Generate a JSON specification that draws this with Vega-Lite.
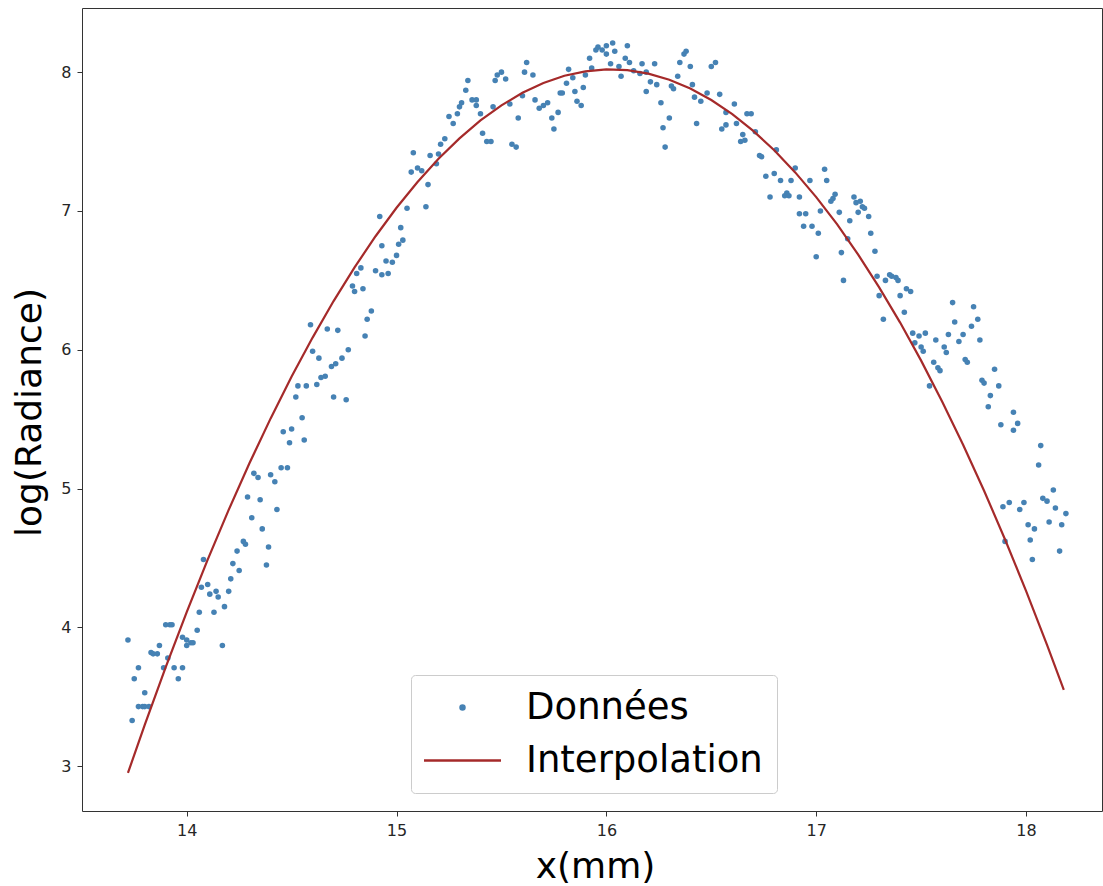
{
  "$schema": "https://vega.github.io/schema/vega-lite/v6.json",
  "autosize": "none",
  "width": 1020,
  "height": 803,
  "padding": {"left": 82, "top": 8, "right": 1, "bottom": 75},
  "background": "white",
  "config": {
    "font": "DejaVu Sans",
    "view": {"stroke": "#333333", "strokeWidth": 1}
  },
  "datasets": {
    "pts": [
      {"x":13.72,"y":3.91},{"x":13.74,"y":3.33},{"x":13.75,"y":3.63},{"x":13.77,"y":3.71},{"x":13.77,"y":3.43},{"x":13.79,"y":3.43},{"x":13.80,"y":3.43},{"x":13.82,"y":3.43},{"x":13.80,"y":3.53},{"x":13.83,"y":3.82},{"x":13.84,"y":3.81},{"x":13.86,"y":3.81},{"x":13.87,"y":3.87},{"x":13.89,"y":3.71},{"x":13.90,"y":4.02},{"x":13.92,"y":4.02},{"x":13.93,"y":4.02},{"x":13.91,"y":3.78},{"x":13.94,"y":3.71},{"x":13.98,"y":3.71},{"x":13.96,"y":3.63},{"x":13.98,"y":3.93},{"x":14.00,"y":3.91},{"x":14.02,"y":3.89},{"x":14.03,"y":3.89},{"x":14.00,"y":3.87},{"x":14.05,"y":3.98},{"x":14.06,"y":4.11},{"x":14.08,"y":4.49},{"x":14.07,"y":4.29},{"x":14.10,"y":4.31},{"x":14.11,"y":4.24},{"x":14.13,"y":4.11},{"x":14.14,"y":4.26},{"x":14.15,"y":4.22},{"x":14.17,"y":3.87},{"x":14.18,"y":4.15},{"x":14.20,"y":4.26},{"x":14.21,"y":4.35},{"x":14.22,"y":4.46},{"x":14.25,"y":4.41},{"x":14.24,"y":4.55},{"x":14.27,"y":4.62},{"x":14.28,"y":4.60},{"x":14.29,"y":4.94},{"x":14.31,"y":4.79},{"x":14.32,"y":5.11},{"x":14.34,"y":5.08},{"x":14.35,"y":4.92},{"x":14.36,"y":4.71},{"x":14.38,"y":4.45},{"x":14.39,"y":4.58},{"x":14.40,"y":5.10},
      {"x":14.43,"y":4.85},{"x":14.42,"y":5.05},{"x":14.45,"y":5.15},{"x":14.48,"y":5.15},{"x":14.49,"y":5.33},{"x":14.46,"y":5.41},{"x":14.50,"y":5.43},{"x":14.55,"y":5.51},{"x":14.56,"y":5.35},{"x":14.52,"y":5.66},{"x":14.53,"y":5.74},{"x":14.57,"y":5.74},{"x":14.62,"y":5.75},{"x":14.64,"y":5.80},{"x":14.66,"y":5.81},{"x":14.70,"y":5.66},{"x":14.76,"y":5.64},{"x":14.69,"y":5.88},{"x":14.71,"y":5.90},{"x":14.74,"y":5.94},{"x":14.77,"y":6.00},{"x":14.60,"y":5.99},{"x":14.63,"y":5.94},{"x":14.59,"y":6.18},{"x":14.67,"y":6.15},{"x":14.72,"y":6.14},{"x":14.85,"y":6.10},{"x":14.86,"y":6.22},{"x":14.88,"y":6.28},{"x":14.79,"y":6.46},{"x":14.80,"y":6.42},{"x":14.84,"y":6.44},{"x":14.81,"y":6.55},{"x":14.83,"y":6.59},{"x":14.90,"y":6.57},{"x":14.93,"y":6.54},{"x":14.96,"y":6.55},{"x":14.95,"y":6.64},
      {"x":14.93,"y":6.75},{"x":14.92,"y":6.96},{"x":14.98,"y":6.63},{"x":15.00,"y":6.68},{"x":15.01,"y":6.76},{"x":15.03,"y":6.79},{"x":15.02,"y":6.88},{"x":15.05,"y":7.02},{"x":15.14,"y":7.03},{"x":15.15,"y":7.19},{"x":15.07,"y":7.28},{"x":15.10,"y":7.31},{"x":15.12,"y":7.29},{"x":15.08,"y":7.42},{"x":15.16,"y":7.40},{"x":15.20,"y":7.41},{"x":15.19,"y":7.34},{"x":15.21,"y":7.48},{"x":15.23,"y":7.52},{"x":15.27,"y":7.63},{"x":15.25,"y":7.68},{"x":15.29,"y":7.70},{"x":15.30,"y":7.75},{"x":15.31,"y":7.78},{"x":15.33,"y":7.87},{"x":15.34,"y":7.94},{"x":15.36,"y":7.80},{"x":15.38,"y":7.80},{"x":15.38,"y":7.76},{"x":15.40,"y":7.70},{"x":15.41,"y":7.56},{"x":15.43,"y":7.50},{"x":15.45,"y":7.50},{"x":15.46,"y":7.75},{"x":15.47,"y":7.94},{"x":15.48,"y":7.98},{"x":15.50,"y":8.00},{"x":15.52,"y":7.95},{"x":15.54,"y":7.77},{"x":15.55,"y":7.48},{"x":15.57,"y":7.46},{"x":15.58,"y":7.67},{"x":15.60,"y":7.83},{"x":15.61,"y":8.00},{"x":15.62,"y":8.07},{"x":15.65,"y":7.98},{"x":15.66,"y":7.80},{"x":15.68,"y":7.74},
      {"x":15.70,"y":7.76},{"x":15.72,"y":7.78},{"x":15.74,"y":7.67},{"x":15.77,"y":7.71},{"x":15.75,"y":7.59},{"x":15.78,"y":7.85},{"x":15.79,"y":7.85},{"x":15.81,"y":7.92},{"x":15.82,"y":8.02},{"x":15.84,"y":7.96},{"x":15.85,"y":7.86},{"x":15.86,"y":7.79},{"x":15.88,"y":7.76},{"x":15.89,"y":7.89},{"x":15.90,"y":7.98},{"x":15.92,"y":8.10},{"x":15.93,"y":8.03},{"x":15.95,"y":8.16},{"x":15.96,"y":8.18},{"x":15.98,"y":8.16},{"x":16.00,"y":8.19},{"x":16.00,"y":8.13},{"x":16.03,"y":8.21},{"x":16.04,"y":8.15},{"x":16.02,"y":8.06},{"x":16.07,"y":7.97},{"x":16.06,"y":8.04},{"x":16.10,"y":8.19},{"x":16.09,"y":8.10},{"x":16.11,"y":8.07},{"x":16.13,"y":8.01},{"x":16.16,"y":7.99},{"x":16.19,"y":8.00},{"x":16.17,"y":8.06},{"x":16.19,"y":7.86},{"x":16.21,"y":7.93},{"x":16.24,"y":7.91},{"x":16.23,"y":8.06},{"x":16.26,"y":7.78},{"x":16.27,"y":7.60},{"x":16.28,"y":7.46},{"x":16.30,"y":7.67},{"x":16.31,"y":7.90},{"x":16.32,"y":7.88},{"x":16.34,"y":7.97},{"x":16.35,"y":8.07},{"x":16.37,"y":8.13},{"x":16.38,"y":8.15},{"x":16.40,"y":8.04},{"x":16.41,"y":7.91},{"x":16.42,"y":7.82},{"x":16.43,"y":7.63},
      {"x":16.50,"y":8.04},{"x":16.52,"y":8.07},{"x":16.45,"y":7.79},{"x":16.48,"y":7.85},{"x":16.54,"y":7.84},{"x":16.55,"y":7.59},{"x":16.57,"y":7.62},{"x":16.57,"y":7.71},{"x":16.61,"y":7.77},{"x":16.62,"y":7.63},{"x":16.65,"y":7.55},{"x":16.64,"y":7.50},{"x":16.66,"y":7.51},{"x":16.67,"y":7.70},{"x":16.69,"y":7.70},{"x":16.71,"y":7.57},{"x":16.73,"y":7.40},{"x":16.74,"y":7.39},{"x":16.76,"y":7.25},{"x":16.78,"y":7.10},{"x":16.80,"y":7.27},{"x":16.81,"y":7.44},{"x":16.83,"y":7.22},{"x":16.85,"y":7.11},{"x":16.86,"y":7.13},{"x":16.87,"y":7.11},{"x":16.88,"y":7.22},{"x":16.90,"y":7.31},{"x":16.92,"y":7.10},{"x":16.92,"y":6.98},{"x":16.95,"y":6.98},{"x":16.94,"y":6.89},{"x":16.98,"y":6.89},{"x":16.97,"y":7.22},{"x":17.00,"y":6.67},{"x":17.01,"y":6.84},{"x":17.02,"y":7.00},{"x":17.04,"y":7.30},{"x":17.05,"y":7.22},{"x":17.07,"y":7.07},{"x":17.08,"y":7.09},{"x":17.09,"y":7.12},{"x":17.11,"y":6.99},{"x":17.12,"y":6.70},{"x":17.13,"y":6.50},{"x":17.15,"y":6.80},{"x":17.16,"y":6.93},{"x":17.18,"y":7.10},{"x":17.19,"y":7.06},{"x":17.20,"y":6.99},
      {"x":17.21,"y":7.07},{"x":17.22,"y":7.03},{"x":17.23,"y":7.02},{"x":17.25,"y":6.96},{"x":17.26,"y":6.84},{"x":17.28,"y":6.71},{"x":17.29,"y":6.53},{"x":17.30,"y":6.39},{"x":17.32,"y":6.22},{"x":17.33,"y":6.50},{"x":17.35,"y":6.54},{"x":17.36,"y":6.53},{"x":17.38,"y":6.52},{"x":17.39,"y":6.50},{"x":17.40,"y":6.39},{"x":17.42,"y":6.27},{"x":17.43,"y":6.44},{"x":17.45,"y":6.42},{"x":17.46,"y":6.12},{"x":17.49,"y":6.10},{"x":17.52,"y":6.12},{"x":17.47,"y":6.05},{"x":17.50,"y":6.02},{"x":17.51,"y":5.99},{"x":17.54,"y":5.74},{"x":17.56,"y":5.91},{"x":17.58,"y":5.87},{"x":17.59,"y":5.85},{"x":17.57,"y":6.07},{"x":17.61,"y":6.02},{"x":17.62,"y":5.98},{"x":17.63,"y":6.11},{"x":17.65,"y":6.34},{"x":17.66,"y":6.20},{"x":17.68,"y":6.06},{"x":17.70,"y":6.11},{"x":17.71,"y":5.93},{"x":17.72,"y":5.91},{"x":17.74,"y":6.17},{"x":17.75,"y":6.31},{"x":17.77,"y":6.22},{"x":17.78,"y":6.07},{"x":17.79,"y":5.78},{"x":17.80,"y":5.76},{"x":17.82,"y":5.59},{"x":17.83,"y":5.67},{"x":17.85,"y":5.86},{"x":17.87,"y":5.74},
      {"x":17.88,"y":5.46},{"x":17.94,"y":5.55},{"x":17.96,"y":5.47},{"x":17.94,"y":5.42},{"x":18.07,"y":5.31},{"x":18.06,"y":5.17},{"x":18.13,"y":4.99},{"x":17.89,"y":4.87},{"x":17.92,"y":4.90},{"x":17.97,"y":4.85},{"x":17.99,"y":4.90},{"x":18.08,"y":4.93},{"x":18.10,"y":4.91},{"x":18.14,"y":4.86},{"x":18.19,"y":4.82},{"x":18.01,"y":4.74},{"x":18.04,"y":4.71},{"x":18.11,"y":4.76},{"x":18.17,"y":4.74},{"x":17.90,"y":4.62},{"x":18.02,"y":4.63},{"x":18.16,"y":4.55},{"x":18.03,"y":4.49}
    ],
    "fit": [
      {"x":13.72,"y":2.952},{"x":13.8,"y":3.299},{"x":13.9,"y":3.714},{"x":14.0,"y":4.111},{"x":14.1,"y":4.488},{"x":14.2,"y":4.847},{"x":14.3,"y":5.186},{"x":14.4,"y":5.506},{"x":14.5,"y":5.807},{"x":14.6,"y":6.088},{"x":14.7,"y":6.351},{"x":14.8,"y":6.594},{"x":14.9,"y":6.818},{"x":15.0,"y":7.023},{"x":15.1,"y":7.209},{"x":15.2,"y":7.376},{"x":15.3,"y":7.523},{"x":15.4,"y":7.652},{"x":15.5,"y":7.761},{"x":15.6,"y":7.851},{"x":15.7,"y":7.922},{"x":15.8,"y":7.974},{"x":15.9,"y":8.006},{"x":16.0,"y":8.020},{"x":16.1,"y":8.014},{"x":16.2,"y":7.989},{"x":16.3,"y":7.945},{"x":16.4,"y":7.882},{"x":16.5,"y":7.799},{"x":16.6,"y":7.698},{"x":16.7,"y":7.577},{"x":16.8,"y":7.437},{"x":16.9,"y":7.278},{"x":17.0,"y":7.100},{"x":17.1,"y":6.903},{"x":17.2,"y":6.686},{"x":17.3,"y":6.450},{"x":17.4,"y":6.196},{"x":17.5,"y":5.922},{"x":17.6,"y":5.628},{"x":17.7,"y":5.316},{"x":17.8,"y":4.985},{"x":17.9,"y":4.634},{"x":18.0,"y":4.264},{"x":18.1,"y":3.875},{"x":18.18,"y":3.550}
    ]
  },
  "encoding": {
    "x": {
      "field": "x", "type": "quantitative",
      "scale": {"domain": [13.501, 18.362], "nice": false, "zero": false},
      "axis": {
        "title": "x(mm)", "values": [14, 15, 16, 17, 18], "format": "d",
        "grid": false, "domain": false,
        "tickColor": "#333333", "tickSize": 5, "tickWidth": 1,
        "labelFont": "DejaVu Sans", "labelFontSize": 16, "labelColor": "#262626", "labelPadding": 6,
        "titleFont": "DejaVu Sans", "titleFontSize": 36, "titleFontWeight": "normal", "titleColor": "#000000",
        "titleX": 513, "titleY": 66, "titleAlign": "center", "titleBaseline": "alphabetic"
      }
    },
    "y": {
      "field": "y", "type": "quantitative",
      "scale": {"domain": [2.678, 8.462], "nice": false, "zero": false},
      "axis": {
        "title": "log(Radiance)", "values": [3, 4, 5, 6, 7, 8], "format": "d",
        "grid": false, "domain": false,
        "tickColor": "#333333", "tickSize": 5, "tickWidth": 1,
        "labelFont": "DejaVu Sans", "labelFontSize": 16, "labelColor": "#262626", "labelPadding": 6,
        "titleFont": "DejaVu Sans", "titleFontSize": 36, "titleFontWeight": "normal", "titleColor": "#000000",
        "titleX": -53, "titleY": 404, "titleAngle": 270, "titleAlign": "center", "titleBaseline": "middle"
      }
    }
  },
  "layer": [
    {
      "data": {"name": "pts"},
      "mark": {"type": "point", "filled": true, "size": 31, "opacity": 1, "strokeWidth": 0},
      "encoding": {
        "color": {
          "datum": "Données", "type": "nominal",
          "scale": {"domain": ["Données", "Interpolation"], "range": ["#4682b4", "#a52a2a"]},
          "legend": {
            "title": null, "orient": "none", "legendX": 329, "legendY": 667,
            "padding": 14, "cornerRadius": 4, "fillColor": "white", "strokeColor": "#cccccc",
            "labelFont": "DejaVu Sans", "labelFontSize": 37, "labelColor": "#000000", "labelLimit": 400,
            "symbolSize": 16, "symbolStrokeWidth": 2.5, "symbolOpacity": 1,
            "symbolOffset": 19, "labelOffset": 45, "rowPadding": 15
          }
        },
        "shape": {
          "datum": "Données", "type": "nominal",
          "scale": {"domain": ["Données", "Interpolation"], "range": ["circle", "M-19.25,0H19.25"]},
          "legend": {
            "title": null, "orient": "none", "legendX": 329, "legendY": 667,
            "padding": 14, "cornerRadius": 4, "fillColor": "white", "strokeColor": "#cccccc",
            "labelFont": "DejaVu Sans", "labelFontSize": 37, "labelColor": "#000000", "labelLimit": 400,
            "symbolSize": 16, "symbolStrokeWidth": 2.5, "symbolOpacity": 1,
            "symbolOffset": 19, "labelOffset": 45, "rowPadding": 15
          }
        }
      }
    },
    {
      "data": {"name": "fit"},
      "mark": {"type": "line", "strokeWidth": 2.2},
      "encoding": {"color": {"datum": "Interpolation", "type": "nominal"}}
    }
  ]
}
